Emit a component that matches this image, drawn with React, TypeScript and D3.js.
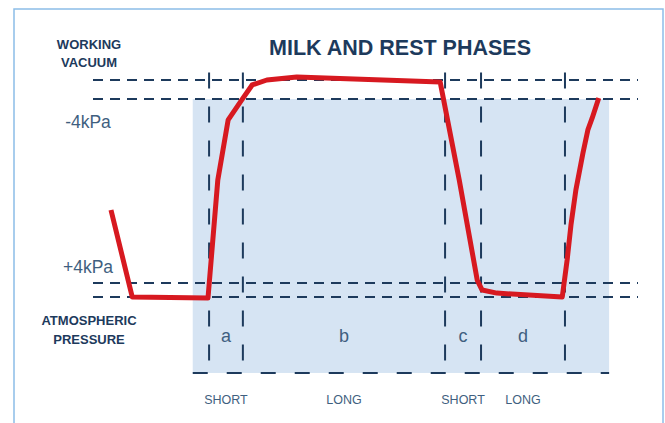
import * as React from 'react';
import * as d3 from 'd3';

// reference levels (0 = atmospheric, 100 = top of working vacuum band)
const levelLines = [0, 6.5, 91.2, 100];
// pulsation phase boundaries along the time axis
const phaseBounds = [21.3, 27.5, 64.6, 71.2, 86.6];
const phaseLetters = ['a', 'b', 'c', 'd'];
const phaseLengths = ['SHORT', 'LONG', 'SHORT', 'LONG'];
const shadeRange = [18.3, 94.7];
const baseLevel = -35;

// pulsation curve (time, level)
const curveTime = [3.3, 7.2, 21.1, 22.9, 24.8, 27.3, 29.2, 31.9, 37.4, 63.7, 67.2, 70.5, 71.4, 74.1, 86.1, 87.0, 87.7, 88.6, 89.9, 90.8, 91.6, 92.8];
const curveLevel = [40.1, 0, -0.5, 53.9, 81.6, 90.8, 97.7, 100, 101.4, 99.1, 53.9, 7.8, 3.2, 1.8, 0, 17.1, 33.2, 49.3, 66.4, 77.0, 82.5, 91.7];

const navy = '#1d3a5c';
const soft = '#3f5f80';

export default function App() {
  const width = 665;
  const height = 423;

  const x = d3.scaleLinear().domain([0, 100]).range([93, 638]);
  const y = d3.scaleLinear().domain([0, 100]).range([297, 80]);

  const pts: [number, number][] = curveTime.map((t, i) => [t, curveLevel[i]]);
  const line = d3
    .line<[number, number]>()
    .x(d => x(d[0]))
    .y(d => y(d[1]));

  const mids = phaseBounds.slice(1).map((b, i) => (b + phaseBounds[i]) / 2);

  return (
    <svg
      width={width}
      height={height}
      style={{ position: 'absolute', left: 0, top: 0, display: 'block' }}
      fontFamily="'Liberation Sans', Arial, sans-serif"
    >
      <rect x={0} y={0} width={width} height={height} fill="#fff" />
      <rect x={14} y={9} width={649} height={430} fill="none" stroke="#8cbde8" strokeWidth={1.5} />

      <rect
        x={x(shadeRange[0])}
        y={y(levelLines[2])}
        width={x(shadeRange[1]) - x(shadeRange[0])}
        height={y(baseLevel) - y(levelLines[2])}
        fill="#d6e4f3"
      />

      {levelLines.map(l => (
        <line
          key={l}
          x1={x(0)}
          x2={x(100)}
          y1={y(l)}
          y2={y(l)}
          stroke={navy}
          strokeWidth={2}
          strokeDasharray="10 7"
        />
      ))}

      {phaseBounds.map(b => (
        <line
          key={b}
          x1={x(b)}
          x2={x(b)}
          y1={y(103.5)}
          y2={y(baseLevel)}
          stroke={navy}
          strokeWidth={2}
          strokeDasharray="16 18"
        />
      ))}

      <line
        x1={x(shadeRange[0])}
        x2={x(shadeRange[1])}
        y1={y(baseLevel)}
        y2={y(baseLevel)}
        stroke={navy}
        strokeWidth={2}
        strokeDasharray="15 19"
      />

      {mids.map((m, i) => (
        <g key={i}>
          <text x={x(m)} y={y(-20.7)} textAnchor="middle" fontSize={18} fill={soft}>
            {phaseLetters[i]}
          </text>
          <text x={x(m)} y={y(-49.3)} textAnchor="middle" fontSize={12.5} fill={soft}>
            {phaseLengths[i]}
          </text>
        </g>
      ))}

      <path
        d={line(pts) || ''}
        fill="none"
        stroke="#d71920"
        strokeWidth={5}
        strokeLinejoin="round"
      />

      <text x={400} y={55} textAnchor="middle" fontSize={21.5} fontWeight="bold" fill={navy}>
        MILK AND REST PHASES
      </text>
      <g fontSize={13} fontWeight="bold" fill={navy} textAnchor="middle">
        <text x={89} y={49}>WORKING</text>
        <text x={89} y={67}>VACUUM</text>
        <text x={89} y={325}>ATMOSPHERIC</text>
        <text x={89} y={344}>PRESSURE</text>
      </g>
      <text x={88} y={y(77.9)} textAnchor="middle" fontSize={17.5} fill={soft}>
        -4kPa
      </text>
      <text x={88} y={y(11)} textAnchor="middle" fontSize={17.5} fill={soft}>
        +4kPa
      </text>
    </svg>
  );
}
